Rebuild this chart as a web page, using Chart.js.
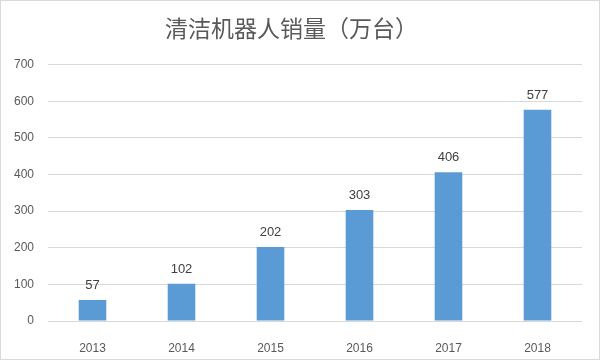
<!DOCTYPE html>
<html>
<head>
<meta charset="utf-8">
<script src="https://cdn.jsdelivr.net/npm/chart.js@4"></script>
<style>
  html, body { margin: 0; padding: 0; background: #fff; }
  #wrap { position: relative; width: 598px; height: 358px; border: 1px solid #d9d9d9; }
  canvas { display: block; }
</style>
</head>
<body>
<div id="wrap"><canvas id="chart" width="598" height="358"></canvas></div>
<script>
const years = ['2013', '2014', '2015', '2016', '2017', '2018'];
const sales = [57, 102, 202, 303, 406, 577];
const yMax = 700;
const yStep = 100;

// draw the number above every bar
const barLabels = {
    id: 'barLabels',
    afterDatasetsDraw(chart) {
        const ctx = chart.ctx;
        const meta = chart.getDatasetMeta(0);
        ctx.save();
        ctx.font = '13px "Liberation Sans", sans-serif';
        ctx.fillStyle = '#404040';
        ctx.textAlign = 'center';
        ctx.textBaseline = 'bottom';
        meta.data.forEach((bar, i) => {
            ctx.fillText(sales[i], bar.x, bar.y - 8);
        });
        ctx.restore();
    }
};

new Chart(document.getElementById('chart'), {
    type: 'bar',
    data: {
        labels: years,
        datasets: [{
            data: sales,
            backgroundColor: '#5b9bd5',
            barPercentage: 0.31,
            categoryPercentage: 1
        }]
    },
    options: {
        responsive: false,
        animation: false,
        layout: { padding: { left: 0, right: 17, top: 0, bottom: 0 } },
        plugins: {
            legend: { display: false },
            tooltip: { enabled: false },
            title: {
                display: true,
                text: '清洁机器人销量（万台）',
                color: '#595959',
                font: { family: '"Noto Sans CJK SC", sans-serif', size: 23, weight: 'normal' },
                padding: { top: 13, bottom: 23 }
            }
        },
        scales: {
            x: {
                grid: { display: false },
                border: { display: false },
                ticks: { color: '#595959', font: { family: '"Liberation Sans", sans-serif', size: 12 }, padding: 12 },
                afterFit: s => { s.height = 38; }
            },
            y: {
                min: 0,
                max: yMax,
                grid: { color: '#d9d9d9', drawTicks: false },
                border: { display: false },
                ticks: { stepSize: yStep, color: '#595959', font: { family: '"Liberation Sans", sans-serif', size: 12 }, padding: 14 },
                afterFit: s => { s.width = 47; }
            }
        }
    },
    plugins: [barLabels]
});
</script>
</body>
</html>
